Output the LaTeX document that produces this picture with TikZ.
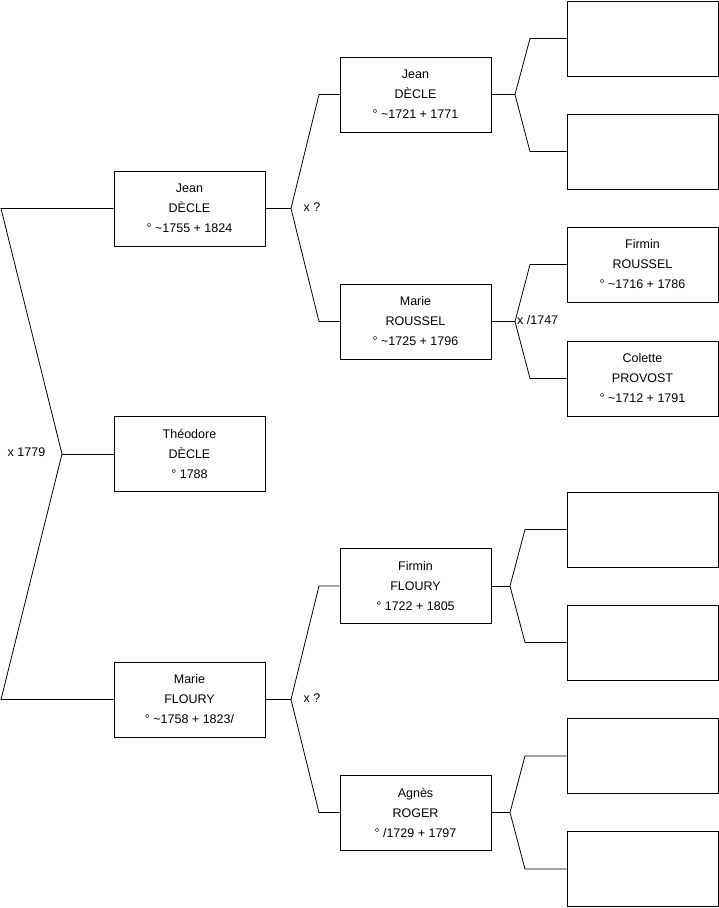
\documentclass[tikz,border=0pt]{standalone}
\usepackage{fontspec}
\setmainfont{Liberation Sans}

\begin{document}
\begin{tikzpicture}[x=1pt,y=-1pt,person/.style={draw, line width=0.8pt, minimum width=151pt, minimum height=75pt, inner sep=0pt, align=center, font=\fontsize{12.5}{20}\selectfont},link/.style={line width=0.8pt},union/.style={inner sep=0pt, font=\fontsize{12.5}{15}\selectfont}]
\useasboundingbox (0,0) rectangle (719,908);
% generation 0 and 1
\node[person] (theo) at (189.5,454) {Théodore\\DÈCLE\\° 1788};
\node[person] (jean1) at (189.5,208.5) {Jean\\DÈCLE\\° \textasciitilde1755 + 1824};
\node[person] (marie1) at (189.5,699.5) {Marie\\FLOURY\\° \textasciitilde1758 + 1823/};
% generation 2
\node[person] (jean2) at (415.5,94.5) {Jean\\DÈCLE\\° \textasciitilde1721 + 1771};
\node[person] (marie2) at (415.5,321.5) {Marie\\ROUSSEL\\° \textasciitilde1725 + 1796};
\node[person] (firmin2) at (415.5,586) {Firmin\\FLOURY\\° 1722 + 1805};
\node[person] (agnes2) at (415.5,812.5) {Agnès\\ROGER\\° /1729 + 1797};
% generation 3
\node[person] (g1) at (642.5,38.5) {}; \node[person] (g2) at (642.5,151.5) {};
\node[person] (firmin3) at (642.5,264.5) {Firmin\\ROUSSEL\\° \textasciitilde1716 + 1786};
\node[person] (colette3) at (642.5,378.5) {Colette\\PROVOST\\° \textasciitilde1712 + 1791};
\node[person] (g5) at (642.5,529.5) {}; \node[person] (g6) at (642.5,642.5) {};
\node[person] (g7) at (642.5,756) {}; \node[person] (g8) at (642.5,869) {};
% brackets
\coordinate (v0) at (62,454); \coordinate (c0t) at (1,208.5); \coordinate (c0b) at (1,699.5);
\draw[link] (jean1.west) -- (c0t) -- (v0) -- (c0b) -- (marie1.west); \draw[link] (v0) -- (theo.west);
\node[union] (u0) at (26.5,452) {x 1779};
\coordinate (v1) at (291,208.5); \coordinate (c1t) at (319,94.5); \coordinate (c1b) at (319,321.5);
\draw[link] (jean2.west) -- (c1t) -- (v1) -- (c1b) -- (marie2.west); \draw[link] (v1) -- (jean1.east);
\node[union] (u1) at (312,207) {x ?};
\coordinate (v2) at (291,699.5); \coordinate (c2t) at (319,586); \coordinate (c2b) at (319,812.5);
\draw[link] (firmin2.west) -- (c2t) -- (v2) -- (c2b) -- (agnes2.west); \draw[link] (v2) -- (marie1.east);
\node[union] (u2) at (312,698) {x ?};
\coordinate (v3) at (515,94.5); \coordinate (c3t) at (530,38.5); \coordinate (c3b) at (530,151.5);
\draw[link] (g1.west) -- (c3t) -- (v3) -- (c3b) -- (g2.west); \draw[link] (v3) -- (jean2.east);
\coordinate (v4) at (515,321.5); \coordinate (c4t) at (530,264.5); \coordinate (c4b) at (530,378.5);
\draw[link] (firmin3.west) -- (c4t) -- (v4) -- (c4b) -- (colette3.west); \draw[link] (v4) -- (marie2.east);
\node[union, anchor=west] (u4) at (517,320) {x /1747};
\coordinate (v5) at (510,586); \coordinate (c5t) at (525,529.5); \coordinate (c5b) at (525,642.5);
\draw[link] (g5.west) -- (c5t) -- (v5) -- (c5b) -- (g6.west); \draw[link] (v5) -- (firmin2.east);
\coordinate (v6) at (510,812.5); \coordinate (c6t) at (525,756); \coordinate (c6b) at (525,869);
\draw[link] (g7.west) -- (c6t) -- (v6) -- (c6b) -- (g8.west); \draw[link] (v6) -- (agnes2.east);
\end{tikzpicture}
\end{document}
